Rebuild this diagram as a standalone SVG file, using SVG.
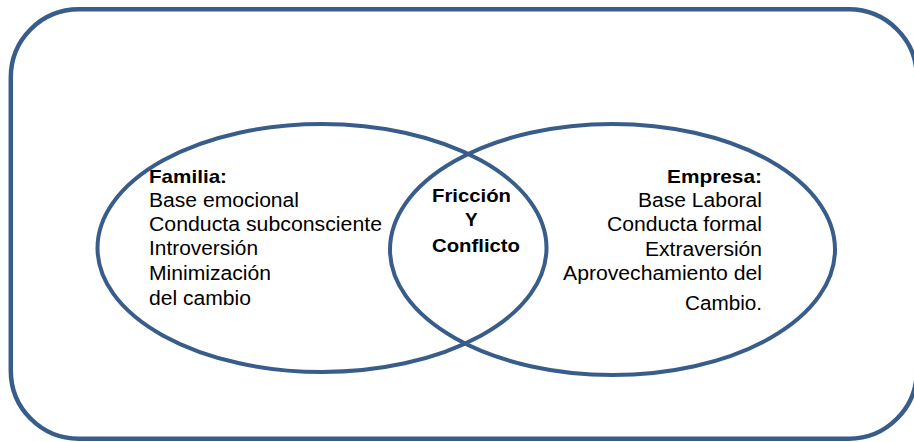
<svg xmlns="http://www.w3.org/2000/svg" width="914" height="442" viewBox="0 0 914 442">
  <style>
    .shape { fill: none; stroke: #385D8A; }
    .t { font-family: "Liberation Sans", Arial, sans-serif; font-size: 20px; fill: #000; }
    .b { font-family: "Liberation Sans", Arial, sans-serif; font-size: 19px; font-weight: bold; fill: #000; }
  </style>
  <rect width="914" height="442" fill="#ffffff"/>
  <g id="frame">
    <rect class="shape" x="10.8" y="9.3" width="906" height="429.4" rx="68" ry="68" stroke-width="4.5"/>
  </g>
  <g id="familia">
    <ellipse class="shape" cx="322" cy="248" rx="224.5" ry="124" stroke-width="4"/>
    <text class="b" x="149" y="183" textLength="78" lengthAdjust="spacingAndGlyphs">Familia:</text>
    <text class="t" x="149" y="207" textLength="150" lengthAdjust="spacingAndGlyphs">Base emocional</text>
    <text class="t" x="149" y="231" textLength="233" lengthAdjust="spacingAndGlyphs">Conducta subconsciente</text>
    <text class="t" x="149" y="255" textLength="109" lengthAdjust="spacingAndGlyphs">Introversión</text>
    <text class="t" x="149" y="279.5" textLength="122" lengthAdjust="spacingAndGlyphs">Minimización</text>
    <text class="t" x="149" y="304.5" textLength="102" lengthAdjust="spacingAndGlyphs">del cambio</text>
  </g>
  <g id="empresa">
    <ellipse class="shape" cx="612.5" cy="249.5" rx="222.5" ry="125.5" stroke-width="4"/>
    <text class="b" x="762" y="183" text-anchor="end" textLength="95" lengthAdjust="spacingAndGlyphs">Empresa:</text>
    <text class="t" x="762" y="207" text-anchor="end" textLength="124" lengthAdjust="spacingAndGlyphs">Base Laboral</text>
    <text class="t" x="762" y="231" text-anchor="end" textLength="155" lengthAdjust="spacingAndGlyphs">Conducta formal</text>
    <text class="t" x="762" y="256" text-anchor="end" textLength="117" lengthAdjust="spacingAndGlyphs">Extraversión</text>
    <text class="t" x="762" y="280" text-anchor="end" textLength="199" lengthAdjust="spacingAndGlyphs">Aprovechamiento del</text>
    <text class="t" x="762" y="310" text-anchor="end" textLength="77" lengthAdjust="spacingAndGlyphs">Cambio.</text>
  </g>
  <g id="friccion">
    <text class="b" x="432" y="202" textLength="79" lengthAdjust="spacingAndGlyphs">Fricción</text>
    <text class="b" x="471.3" y="226" text-anchor="middle">Y</text>
    <text class="b" x="432" y="251.5" textLength="88" lengthAdjust="spacingAndGlyphs">Conflicto</text>
  </g>
  <g id="connectors"></g>
</svg>
